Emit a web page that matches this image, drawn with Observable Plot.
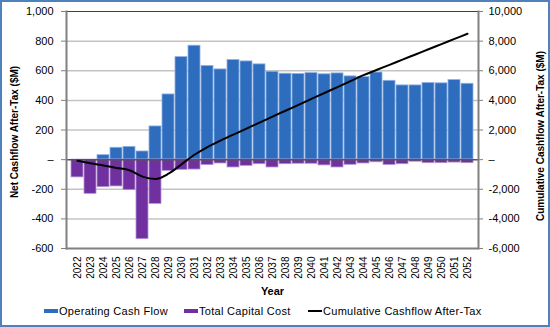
<!DOCTYPE html>
<html>
<head>
<meta charset="utf-8">
<script src="https://cdn.jsdelivr.net/npm/d3@7"></script>
<script src="https://cdn.jsdelivr.net/npm/@observablehq/plot@0.6"></script>
<style>
  body { margin: 0; background: #fff; }
  #wrap { position: relative; width: 550px; height: 327px; background: #fff; font-family: "Liberation Sans", Arial, sans-serif; overflow: hidden; }
  #border { position: absolute; left: 0; top: 0; width: 550px; height: 327px; box-sizing: border-box; border: 2px solid #4f81bd; pointer-events: none; }
  #chart { position: absolute; left: 0; top: 0; }
  .leg { position: absolute; top: 305px; font-size: 11px; letter-spacing: 0.3px; color: #000; display: flex; align-items: center; white-space: nowrap; }
  .sw { display: inline-block; width: 14px; height: 4px; margin-right: 1px; }
</style>
</head>
<body>
<div id="wrap">
  <div id="chart"></div>
  <div class="leg" style="left:44px"><span class="sw" style="background:#2e6dbd"></span>Operating Cash Flow</div>
  <div class="leg" style="left:184px"><span class="sw" style="background:#7030a0"></span>Total Capital Cost</div>
  <div class="leg" style="left:308px"><span class="sw" style="background:#000;height:2px"></span>Cumulative Cashflow After-Tax</div>
  <div id="border"></div>
</div>
<script>
const years = ["2022","2023","2024","2025","2026","2027","2028","2029","2030","2031","2032","2033","2034","2035","2036","2037","2038","2039","2040","2041","2042","2043","2044","2045","2046","2047","2048","2049","2050","2051","2052"];
const operatingCashFlow = [0,0,30,80,86,55,224,440,692,769,632,609,672,663,643,593,580,578,584,576,582,562,557,588,532,501,501,517,515,537,512];
const totalCapitalCost = [-120,-231,-186,-181,-206,-537,-299,-76,-69,-67,-37,-26,-53,-42,-31,-53,-31,-28,-28,-39,-53,-35,-26,-18,-36,-31,-14,-24,-24,-20,-24];
const cumulativeAfterTax = [-80,-250,-400,-560,-720,-1150,-1300,-950,-320,330,850,1280,1690,2090,2500,2900,3300,3700,4100,4500,4900,5300,5700,6050,6400,6750,7100,7450,7800,8150,8500];
const leftTicks = [-600,-400,-200,0,200,400,600,800,1000];
const gridTicks = [-400,-200,200,400,600,800];
const rightScale = 10;

const data = years.map((y, i) => ({year: y, op: operatingCashFlow[i], cap: totalCapitalCost[i], cum: cumulativeAfterTax[i]}));

const fmt = v => v === 0 ? "\u2013" : (v < 0 ? "-" : "") + d3.format(",")(Math.abs(v));

const chart = Plot.plot({
  width: 550,
  height: 300,
  marginLeft: 66,
  marginRight: 72,
  marginTop: 11,
  marginBottom: 52,
  style: {fontFamily: "'Liberation Sans', Arial, sans-serif", fontSize: "11px", color: "#000", background: "transparent"},
  x: {type: "band", domain: years, paddingInner: 0.04, paddingOuter: 0.02},
  y: {domain: [-600, 1000]},
  marks: [
    Plot.gridY(gridTicks, {stroke: "#c4c4c4", strokeOpacity: 1, strokeWidth: 1.5}),
    Plot.barY(data, {x: "year", y: "op", fill: "#2e6dbd", stroke: "#8fb1e3", strokeWidth: 0.8}),
    Plot.barY(data, {x: "year", y: "cap", fill: "#7030a0", stroke: "#b596d6", strokeWidth: 0.8}),
    Plot.ruleY([0], {stroke: "#555", strokeWidth: 1.5}),
    Plot.ruleY([1000], {stroke: "#404040", strokeWidth: 1}),
    Plot.ruleY([-600], {stroke: "#808080", strokeWidth: 2}),
    Plot.frame({anchor: "left", stroke: "#808080", strokeWidth: 2}),
    Plot.frame({anchor: "right", stroke: "#808080", strokeWidth: 2}),
    Plot.line(data, {x: "year", y: d => d.cum / rightScale, stroke: "#000", strokeWidth: 2, curve: "monotone-x"}),
    Plot.axisY(leftTicks, {anchor: "left", tickFormat: fmt, tickSize: 5, tickPadding: 8, label: null, stroke: "#808080", fontSize: 11}),
    Plot.axisY(leftTicks, {anchor: "right", tickFormat: d => fmt(d * rightScale), tickSize: 4, tickPadding: 6, label: null, stroke: "#808080", fontSize: 11}),
    Plot.axisX({tickRotate: -90, tickSize: 0, tickPadding: 8, label: null, fontSize: 10}),
    Plot.text(["Net Cashflow After-Tax ($M)"], {frameAnchor: "left", textAnchor: "middle", dx: -52, dy: 2, rotate: -90, fontWeight: "bold", fontSize: 10, letterSpacing: 0.3}),
    Plot.text(["Cumulative Cashflow After-Tax ($M)"], {frameAnchor: "right", textAnchor: "middle", dx: 62, dy: 6, rotate: -90, fontWeight: "bold", fontSize: 10, letterSpacing: 0.5}),
    Plot.text(["Year"], {frameAnchor: "bottom", dy: 46, fontWeight: "bold", fontSize: 11})
  ]
});
document.getElementById("chart").appendChild(chart);
</script>
</body>
</html>
